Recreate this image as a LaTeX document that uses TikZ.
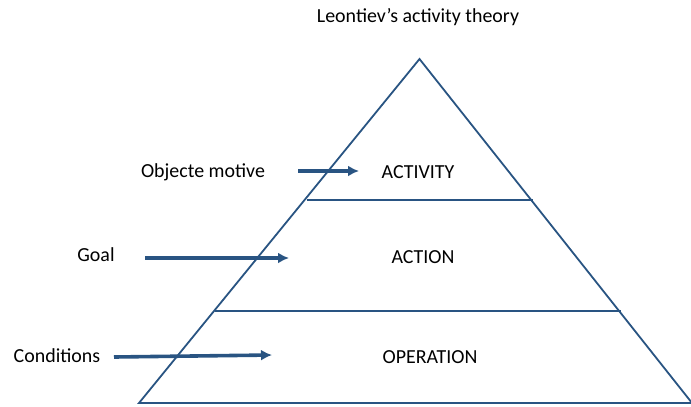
\documentclass[tikz,border=0pt]{standalone}
\usepackage{fontspec}
\setmainfont{Carlito}
\usetikzlibrary{arrows.meta}
\definecolor{pyrblue}{RGB}{41,84,130}

\begin{document}
\begin{tikzpicture}[
        x=1bp, y=-1bp,
        every node/.style={font=\fontsize{20}{24}\selectfont, text=black, inner sep=0pt},
        edge/.style={draw=pyrblue, line width=1.8bp},
        level/.style={draw=pyrblue, line width=2.8bp},
        pointer/.style={draw=pyrblue, line width=3.6bp, -{Latex[length=11bp,width=11bp]}}
    ]
    \useasboundingbox (0,0) rectangle (691,406);

    % pyramid
    \coordinate (apex) at (419.5,59);
    \coordinate (left) at (139,403);
    \coordinate (right) at (692,403);
    \draw[edge] (left) -- (apex) -- (right) -- cycle;

    % levels
    \coordinate (l1a) at (307,200);
    \coordinate (l1b) at (533,200);
    \coordinate (l2a) at (215,311);
    \coordinate (l2b) at (621,311);
    \draw[level] (l1a) -- (l1b);
    \draw[level] (l2a) -- (l2b);

    % texts
    \node (title) at (418,17) {Leontiev’s activity theory};
    \node (activity) at (418,172) {ACTIVITY};
    \node (action) at (423,257) {ACTION};
    \node (operation) at (430,357) {OPERATION};
    \node (motive) at (203,172) {Objecte motive};
    \node (goal) at (96,255) {Goal};
    \node (cond) at (57,356) {Conditions};

    % arrows
    \coordinate (m0) at (298,171);
    \coordinate (m1) at (359,171);
    \coordinate (g0) at (145,258);
    \coordinate (g1) at (289,258);
    \coordinate (c0) at (114,357);
    \coordinate (c1) at (272,355);
    \draw[pointer] (m0) -- (m1);
    \draw[pointer] (g0) -- (g1);
    \draw[pointer] (c0) -- (c1);
\end{tikzpicture}
\end{document}
